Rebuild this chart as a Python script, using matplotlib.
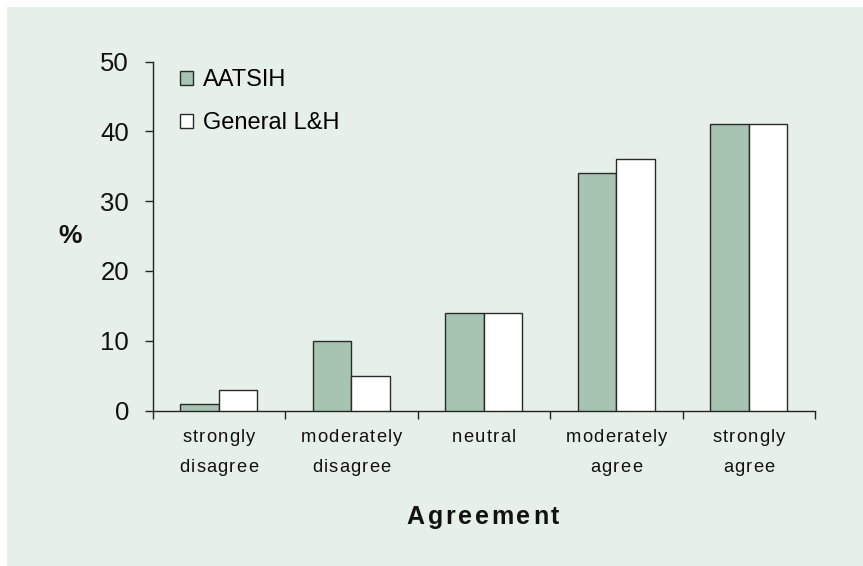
import numpy as np
import matplotlib
matplotlib.use("Agg")
import matplotlib.pyplot as plt
from matplotlib.patches import Rectangle, Patch

plt.rcParams['font.family'] = ['Liberation Sans', 'DejaVu Sans']

# data
categories = ['strongly\ndisagree', 'moderately\ndisagree', 'neutral',
              'moderately\nagree', 'strongly\nagree']
aatsih = [1, 10, 14, 34, 41]
general = [3, 5, 14, 36, 41]
series_names = ['AATSIH', 'General L&H']

W, H = 863, 566
fig = plt.figure(figsize=(W / 100, H / 100), dpi=100)
fig.patch.set_facecolor('white')
bg = '#e6f0e8'
fig.patches.append(Rectangle((7 / W, 0), 1 - 7 / W, 1 - 7 / H,
                             transform=fig.transFigure, facecolor=bg,
                             edgecolor='none', zorder=-10))

ax = fig.add_axes([152.5 / W, 1 - 410.5 / H, (815 - 152.5) / W, (410.5 - 61.7) / H])
ax.set_facecolor(bg)
renderer = fig.canvas.get_renderer()


def spaced_text(cx, base_y, s, size, track, weight='normal'):
    # letter-spaced text centred on cx (pixels), baseline at base_y (pixels from top)
    widths = []
    for ch in s:
        t = fig.text(0, 0, ch, fontsize=size, fontweight=weight)
        widths.append(t.get_window_extent(renderer).width)
        t.remove()
    total = sum(widths) + track * (len(s) - 1)
    xpos = cx - total / 2
    for ch, w in zip(s, widths):
        fig.text(xpos / W, 1 - base_y / H, ch, fontsize=size, fontweight=weight,
                 ha='left', va='baseline', color='#111111')
        xpos += w + track


x = np.arange(len(categories))
bw = 0.29
green = '#a6c4b1'
ax.bar(x - bw / 2, aatsih, bw, color=green, edgecolor='#2a2a2a', linewidth=1.0, zorder=3)
ax.bar(x + bw / 2, general, bw, color='white', edgecolor='#2a2a2a', linewidth=1.0, zorder=3)

ax.set_xlim(-0.5, len(categories) - 0.5)
ax.set_ylim(0, 50)
ax.set_yticks([0, 10, 20, 30, 40, 50])
ax.tick_params(axis='y', direction='out', length=6, width=1, labelsize=18.5, pad=11,
               color='#222222', labelcolor='#111111')

ax.set_xticks(x)
ax.set_xticklabels([])
ax.tick_params(axis='x', which='major', length=0)
ax.set_xticks(np.arange(len(categories) + 1) - 0.5, minor=True)
ax.tick_params(axis='x', which='minor', direction='out', length=6, width=1, color='#222222')

for s in ['top', 'right']:
    ax.spines[s].set_visible(False)
for s in ['left', 'bottom']:
    ax.spines[s].set_color('#222222')
    ax.spines[s].set_linewidth(1)

# category labels with Excel-like letter spacing
for i, lab in enumerate(categories):
    cx = ax.transData.transform((i, 0))[0]
    for j, line in enumerate(lab.split('\n')):
        spaced_text(cx, 441.7 + 30 * j, line, 13.2, 1.2)

fig.text(70 / W, 1 - 236 / H, '%', fontsize=19, fontweight='bold',
         ha='center', va='center', color='#111111')
spaced_text(483, 524, 'Agreement', 18, 2.7, weight='bold')

handles = [Patch(facecolor=green, edgecolor='#2a2a2a', linewidth=1.0),
           Patch(facecolor='white', edgecolor='#2a2a2a', linewidth=1.0)]
ax.legend(handles, series_names, loc='upper left',
          bbox_to_anchor=(180 / W, 1 - 69 / H), bbox_transform=fig.transFigure,
          frameon=False, fontsize=17, handlelength=0.55, handleheight=0.55,
          handletextpad=0.42, labelspacing=0.9, borderaxespad=0, borderpad=0)

fig.savefig('out.png', dpi=100, facecolor=fig.get_facecolor())
